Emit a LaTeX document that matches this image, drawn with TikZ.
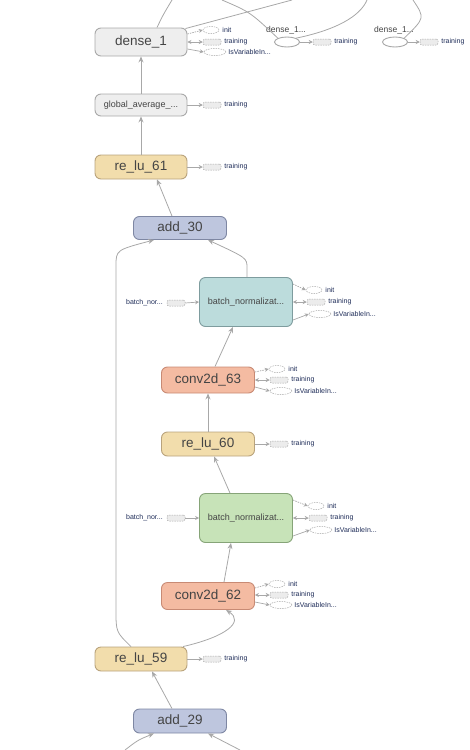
\documentclass[tikz,border=0pt]{standalone}
\usepackage{fontspec}
\setmainfont{Liberation Sans}
\usetikzlibrary{arrows.meta,shapes.geometric,positioning}

\definecolor{edgegray}{HTML}{A8A8A8}
\definecolor{optext}{HTML}{444444}
\definecolor{lbltext}{HTML}{1E2C58}
\definecolor{constfill}{HTML}{EEEEEE}
\definecolor{constline}{HTML}{A9A9A9}
\definecolor{relufill}{HTML}{F2DDAC}
\definecolor{reluline}{HTML}{B9A37C}
\definecolor{addfill}{HTML}{BEC6DE}
\definecolor{addline}{HTML}{7E87A3}
\definecolor{bnafill}{HTML}{BCDCDC}
\definecolor{bnaline}{HTML}{7E9C9E}
\definecolor{bnbfill}{HTML}{C7E3B8}
\definecolor{bnbline}{HTML}{86A478}
\definecolor{convfill}{HTML}{F4BBA2}
\definecolor{convline}{HTML}{C88A74}

\begin{document}
\begin{tikzpicture}[x=1pt,y=-1pt,
  op/.style={draw, rounded corners=6pt, line width=0.9pt, minimum width=92pt,
    inner sep=0pt, text=optext, font=\fontsize{13.5}{14}\selectfont},
  small/.style={font=\fontsize{9}{10}\selectfont},
  dinit/.style={ellipse, draw=edgegray, dash pattern=on 1.5pt off 1pt,
    line width=0.5pt, minimum width=16pt, minimum height=7pt, inner sep=0pt},
  disvar/.style={dinit, minimum width=22pt},
  dtrain/.style={rectangle, rounded corners=2pt, draw=edgegray, fill=gray!15,
    dash pattern=on 1.5pt off 1pt, line width=0.5pt, minimum width=18pt,
    minimum height=6pt, inner sep=0pt},
  dcall/.style={ellipse, draw=edgegray, fill=white, line width=0.9pt,
    minimum width=25pt, minimum height=10pt, inner sep=0pt},
  lbl/.style={font=\fontsize{7}{8}\selectfont, text=lbltext, inner sep=0pt, anchor=west},
  flow/.style={draw=edgegray, line width=0.8pt, -{Stealth[length=6pt,width=5pt]}},
  plain/.style={draw=edgegray, line width=0.8pt},
  sidearr/.style={draw=edgegray, line width=0.7pt, -{Stealth[length=4pt,width=4pt]}},
  sidedash/.style={sidearr, dash pattern=on 1.5pt off 1pt},
  sideboth/.style={draw=edgegray, line width=0.7pt,
    {Stealth[length=4pt,width=4pt]}-{Stealth[length=4pt,width=4pt]}}]
\useasboundingbox (0,0) rectangle (469,750);

% main column
\node[op, fill=constfill, draw=constline, minimum height=28pt] (dense1) at (141,42)
	{dense\_1};
\node[op, small, fill=constfill, draw=constline, minimum height=22pt] (gap) at (141,105)
	{global\_average\_...};
\node[op, fill=relufill, draw=reluline, minimum height=24pt] (relu61) at (141,167)
	{re\_lu\_61};
\node[op, fill=addfill, draw=addline, minimum width=93pt, minimum height=23pt] (add30) at (180,228)
	{add\_30};
\node[op, small, fill=bnafill, draw=bnaline, minimum width=93pt, minimum height=49pt] (bnA) at (246,302)
	{batch\_normalizat...};
\node[op, fill=convfill, draw=convline, minimum width=93pt, minimum height=26pt] (conv63) at (208,380)
	{conv2d\_63};
\node[op, fill=relufill, draw=reluline, minimum width=93pt, minimum height=24pt] (relu60) at (208,444)
	{re\_lu\_60};
\node[op, small, fill=bnbfill, draw=bnbline, minimum width=93pt, minimum height=49pt] (bnB) at (246,518)
	{batch\_normalizat...};
\node[op, fill=convfill, draw=convline, minimum width=93pt, minimum height=27pt] (conv62) at (208,596)
	{conv2d\_62};
\node[op, fill=relufill, draw=reluline, minimum height=24pt] (relu59) at (141,659)
	{re\_lu\_59};
\node[op, fill=addfill, draw=addline, minimum width=93pt, minimum height=24pt] (add29) at (180,721)
	{add\_29};

% side inputs of dense_1
\node[dinit] (dense1init) at (211,30) {};
\node[lbl, right=3pt of dense1init] (dense1initl) {init};
\node[dtrain] (dense1train) at (212,42) {};
\node[lbl, right=3pt of dense1train] (dense1trainl) {training};
\node[disvar] (dense1isvar) at (215,52) {};
\node[lbl, right=2pt of dense1isvar] (dense1isvarl) {IsVariableIn...};
\draw[sidedash] ([yshift=8pt]dense1.east) -- (dense1init.west);
\draw[sideboth] (dense1.east) -- (dense1train.west);
\draw[sidearr] ([yshift=-7pt]dense1.east) -- (dense1isvar.west);

% other dense_1 calls
\node[lbl, font=\fontsize{8.5}{9}\selectfont, text=optext, anchor=center] (call1l) at (286,30) {dense\_1...};
\node[dcall] (call1) at (287,42) {};
\node[dtrain] (call1train) at (322,42) {};
\node[lbl, right=3pt of call1train] (call1trainl) {training};
\draw[sidearr] (call1) -- (call1train);
\node[lbl, font=\fontsize{8.5}{9}\selectfont, text=optext, anchor=center] (call2l) at (394,30) {dense\_1...};
\node[dcall] (call2) at (395,42) {};
\node[dtrain] (call2train) at (429,42) {};
\node[lbl, right=3pt of call2train] (call2trainl) {training};
\draw[sidearr] (call2) -- (call2train);

% edges leaving the top
\coordinate (topA) at (172,0);
\coordinate (topB) at (292,0);
\coordinate (topC) at (222,0);
\coordinate (topD) at (367,0);
\coordinate (topE) at (413,0);
\draw[plain] ([xshift=16pt]dense1.north) .. controls (163,15) .. (topA);
\draw[plain] ([xshift=-2pt,yshift=-1pt]dense1.north east) -- (topB);
\draw[plain] (topC) .. controls (250,12) .. (call1.north west);
\draw[plain] (call1.north east) .. controls (345,28) and (362,12) .. (topD);
\draw[plain] (call2.north east) .. controls (425,18) .. (topE);

% side inputs
\node[dtrain] (gaptrain) at (212,105) {};
\node[lbl, right=3pt of gaptrain] (gaptrainl) {training};
\draw[sidearr] (gap.east) -- (gaptrain.west);

\node[dtrain] (relu61train) at (212,167) {};
\node[lbl, right=3pt of relu61train] (relu61trainl) {training};
\draw[sidearr] (relu61.east) -- (relu61train.west);

\node[lbl] (bnAinl) at (126,303) {batch\_nor...};
\node[dtrain] (bnAin) at (176,303) {};
\draw[sidearr] (bnAin.east) -- (bnA.west);
\node[dinit] (bnAinit) at (314,290) {};
\node[lbl, right=3pt of bnAinit] (bnAinitl) {init};
\node[dtrain] (bnAtrain) at (316,302) {};
\node[lbl, right=3pt of bnAtrain] (bnAtrainl) {training};
\node[disvar] (bnAisvar) at (320,314) {};
\node[lbl, right=2pt of bnAisvar] (bnAisvarl) {IsVariableIn...};
\draw[sidedash] ([yshift=18pt]bnA.east) -- (bnAinit.west);
\draw[sideboth] (bnA.east) -- (bnAtrain.west);
\draw[sidearr] ([yshift=-18pt]bnA.east) -- (bnAisvar.west);

\node[dinit] (conv63init) at (277,369) {};
\node[lbl, right=3pt of conv63init] (conv63initl) {init};
\node[dtrain] (conv63train) at (279,380) {};
\node[lbl, right=3pt of conv63train] (conv63trainl) {training};
\node[disvar] (conv63isvar) at (281,391) {};
\node[lbl, right=2pt of conv63isvar] (conv63isvarl) {IsVariableIn...};
\draw[sidedash] ([yshift=8pt]conv63.east) -- (conv63init.west);
\draw[sideboth] (conv63.east) -- (conv63train.west);
\draw[sidearr] ([yshift=-7pt]conv63.east) -- (conv63isvar.west);

\node[dtrain] (relu60train) at (279,444) {};
\node[lbl, right=3pt of relu60train] (relu60trainl) {training};
\draw[sidearr] (relu60.east) -- (relu60train.west);

\node[lbl] (bnBinl) at (126,518) {batch\_nor...};
\node[dtrain] (bnBin) at (176,518) {};
\draw[sidearr] (bnBin.east) -- (bnB.west);
\node[dinit] (bnBinit) at (316,506) {};
\node[lbl, right=3pt of bnBinit] (bnBinitl) {init};
\node[dtrain] (bnBtrain) at (318,518) {};
\node[lbl, right=3pt of bnBtrain] (bnBtrainl) {training};
\node[disvar] (bnBisvar) at (321,530) {};
\node[lbl, right=2pt of bnBisvar] (bnBisvarl) {IsVariableIn...};
\draw[sidedash] ([yshift=18pt]bnB.east) -- (bnBinit.west);
\draw[sideboth] (bnB.east) -- (bnBtrain.west);
\draw[sidearr] ([yshift=-18pt]bnB.east) -- (bnBisvar.west);

\node[dinit] (conv62init) at (277,584) {};
\node[lbl, right=3pt of conv62init] (conv62initl) {init};
\node[dtrain] (conv62train) at (279,595) {};
\node[lbl, right=3pt of conv62train] (conv62trainl) {training};
\node[disvar] (conv62isvar) at (281,605) {};
\node[lbl, right=2pt of conv62isvar] (conv62isvarl) {IsVariableIn...};
\draw[sidedash] ([yshift=8pt]conv62.east) -- (conv62init.west);
\draw[sideboth] ([yshift=1pt]conv62.east) -- (conv62train.west);
\draw[sidearr] ([yshift=-6pt]conv62.east) -- (conv62isvar.west);

\node[dtrain] (relu59train) at (212,659) {};
\node[lbl, right=3pt of relu59train] (relu59trainl) {training};
\draw[sidearr] (relu59.east) -- (relu59train.west);

% data flow
\draw[flow] (gap.north) -- (dense1.south);
\draw[flow] (relu61.north) -- (gap.south);
\draw[flow] ([xshift=-8pt]add30.north) -- ([xshift=16pt]relu61.south);
\draw[flow] ([xshift=1pt]bnA.north) -- (247,268) .. controls (247,258) .. ([xshift=28pt]add30.south);
\draw[flow] ([xshift=-10pt]relu59.north) .. controls (116,632) .. (116,610) -- (116,266)
	.. controls (116,250) .. ([xshift=-26pt]add30.south);
\draw[flow] ([xshift=7pt]conv63.north) -- ([xshift=-13pt]bnA.south);
\draw[flow] (relu60.north) -- (conv63.south);
\draw[flow] ([xshift=-16pt]bnB.north) -- ([xshift=6pt]relu60.south);
\draw[flow] ([xshift=16pt]conv62.north) -- ([xshift=-15pt]bnB.south);
\draw[flow] ([xshift=42pt]relu59.north) .. controls (225,637) and (245,622) .. ([xshift=18pt]conv62.south);
\draw[flow] ([xshift=-8pt]add29.north) -- ([xshift=11pt]relu59.south);

% edges entering from below
\coordinate (botA) at (125,750);
\coordinate (botB) at (240,750);
\draw[flow] (botA) .. controls (138,740) .. ([xshift=-26pt]add29.south);
\draw[flow] (botB) -- ([xshift=28pt]add29.south);
\end{tikzpicture}
\end{document}
